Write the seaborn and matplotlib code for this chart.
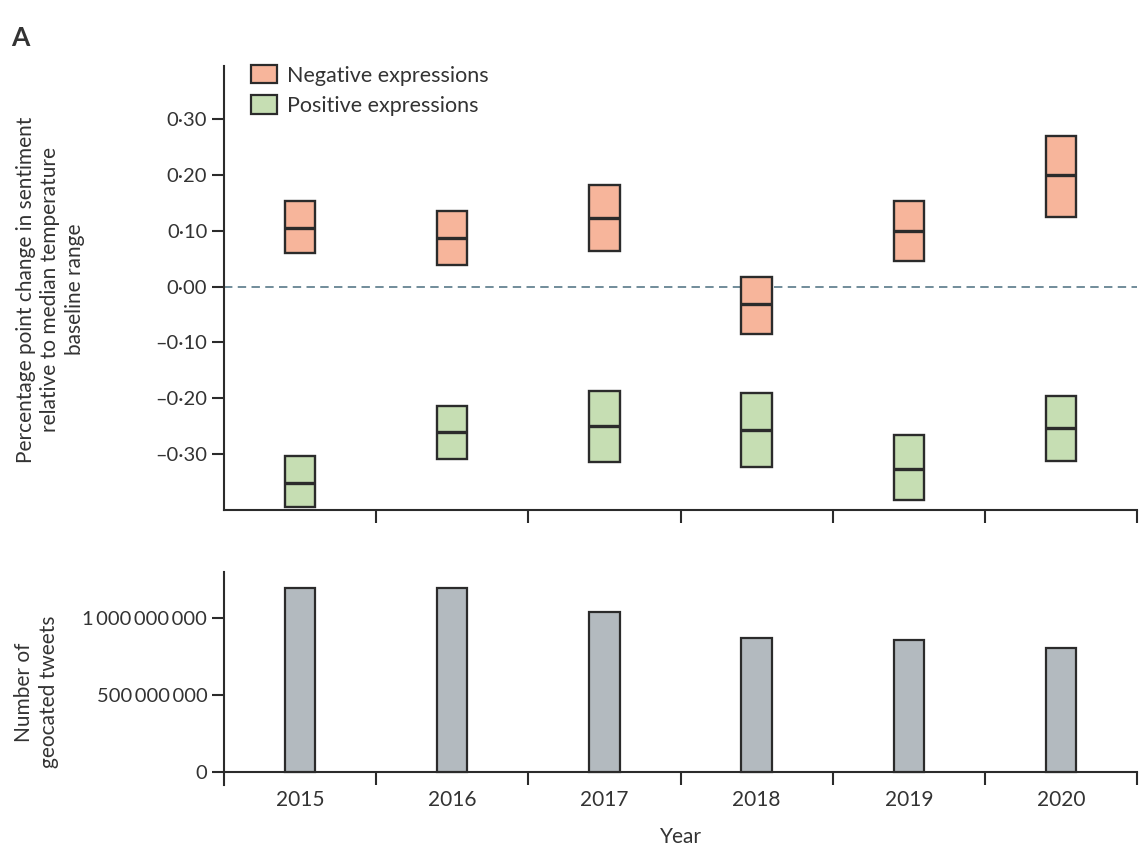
import numpy as np
import pandas as pd
import matplotlib
matplotlib.use("Agg")
import matplotlib.pyplot as plt
from matplotlib.patches import Patch
from matplotlib.ticker import FixedLocator, FuncFormatter
import seaborn as sns

# Yearly sentiment change: interval bounds and central estimate
years = ["2015", "2016", "2017", "2018", "2019", "2020"]
neg_low = [0.060, 0.038, 0.063, -0.084, 0.046, 0.124]
neg_mid = [0.105, 0.087, 0.122, -0.032, 0.099, 0.199]
neg_high = [0.153, 0.135, 0.182, 0.018, 0.154, 0.269]
pos_low = [-0.395, -0.309, -0.314, -0.323, -0.382, -0.313]
pos_mid = [-0.352, -0.261, -0.250, -0.257, -0.326, -0.253]
pos_high = [-0.303, -0.213, -0.187, -0.191, -0.266, -0.196]

# Geocated tweet volume per year
tweets = [1.196e9, 1.196e9, 1.04e9, 0.871e9, 0.858e9, 0.806e9]

sent_ticks = [0.30, 0.20, 0.10, 0.00, -0.10, -0.20, -0.30]
tweet_ticks = [0, 500_000_000, 1_000_000_000]

sns.set_theme(style="white")
plt.rcParams["font.family"] = ["Lato", "DejaVu Sans"]
plt.rcParams["text.color"] = "#333333"
plt.rcParams["axes.labelcolor"] = "#333333"
plt.rcParams["xtick.color"] = "#333333"
plt.rcParams["ytick.color"] = "#333333"

INK = "#2b2b2b"
NEG_FILL = "#f7b59b"
POS_FILL = "#c6deb3"
BAR_FILL = "#b3babf"
BOX_W = 0.2

fig = plt.figure(figsize=(11.47, 8.52), dpi=100)
ax1 = fig.add_axes([0.1953, 0.4014, 0.796, 0.5211])
ax2 = fig.add_axes([0.1953, 0.0787, 0.796, 0.2500])

df = pd.DataFrame({
    "year": years,
    "neg_low": neg_low, "neg_mid": neg_mid, "neg_high": neg_high,
    "pos_low": pos_low, "pos_mid": pos_mid, "pos_high": pos_high,
    "tweets": tweets,
})
xpos = np.arange(len(years))

# --- top panel: interval boxes with a central line ---
for key, fill in (("neg", NEG_FILL), ("pos", POS_FILL)):
    lo = df[f"{key}_low"].to_numpy()
    hi = df[f"{key}_high"].to_numpy()
    mid = df[f"{key}_mid"].to_numpy()
    ax1.bar(xpos, hi - lo, bottom=lo, width=BOX_W, color=fill,
            edgecolor=INK, linewidth=1.7, zorder=3)
    ax1.hlines(mid, xpos - BOX_W / 2, xpos + BOX_W / 2, color=INK,
               linewidth=2.4, zorder=4)

ax1.axhline(0, color="#4a6e7e", linewidth=1.1, linestyle=(0, (5.5, 3.5)),
            zorder=2)

ax1.set_xlim(-0.5, len(years) - 0.5)
ax1.set_ylim(-0.40, 0.395)
ax1.yaxis.set_major_locator(FixedLocator(sent_ticks))


def fmt_sent(v, _pos=None):
    s = f"{abs(v):.2f}".replace(".", "\u00b7")
    return ("\u2013" + s) if v < -1e-9 else s


ax1.yaxis.set_major_formatter(FuncFormatter(fmt_sent))
ax1.set_xticks(xpos)
ax1.set_xticklabels([])
ax1.set_xticks(np.arange(len(years)) + 0.5, minor=True)
ax1.tick_params(axis="x", which="major", length=0)
ax1.tick_params(axis="x", which="minor", length=9, width=1.5,
                direction="out", color=INK, bottom=True)
ax1.tick_params(axis="y", length=9, width=1.5, direction="out",
                color=INK, labelsize=14.5, pad=3, left=True)
for side in ("top", "right"):
    ax1.spines[side].set_visible(False)
for side in ("left", "bottom"):
    ax1.spines[side].set_color(INK)
    ax1.spines[side].set_linewidth(1.5)

handles = [Patch(facecolor=NEG_FILL, edgecolor=INK, linewidth=1.6,
                 label="Negative expressions"),
           Patch(facecolor=POS_FILL, edgecolor=INK, linewidth=1.6,
                 label="Positive expressions")]
ax1.legend(handles=handles, loc="upper left", bbox_to_anchor=(0.02, 1.022),
           frameon=False, fontsize=15.5, handlelength=1.2, handleheight=0.95,
           handletextpad=0.5, labelspacing=0.45, borderaxespad=0)

fig.text(0.044, 0.660,
         "Percentage point change in sentiment\n"
         "relative to median temperature\nbaseline range",
         rotation=90, ha="center", va="center", fontsize=15,
         linespacing=1.3, multialignment="center")

# --- bottom panel: tweet counts ---
sns.barplot(data=df, x="year", y="tweets", color=BAR_FILL, saturation=1,
            width=BOX_W, edgecolor=INK, linewidth=1.6, ax=ax2, zorder=3)
ax2.set_xlim(-0.5, len(years) - 0.5)
ax2.set_ylim(-0.085e9, 1.3e9)
ax2.spines["bottom"].set_position(("data", 0))
ax2.yaxis.set_major_locator(FixedLocator(tweet_ticks))
ax2.yaxis.set_major_formatter(
    FuncFormatter(lambda v, p: f"{int(round(v)):,}".replace(",", "\u2009")))
ax2.set_xticks(xpos)
ax2.set_xticklabels(years)
ax2.set_xticks(np.arange(len(years)) + 0.5, minor=True)
ax2.tick_params(axis="x", which="major", length=0, labelsize=15, pad=13)
ax2.tick_params(axis="x", which="minor", length=9, width=1.5,
                direction="out", color=INK, bottom=True)
ax2.tick_params(axis="y", length=9, width=1.5, direction="out",
                color=INK, labelsize=14.5, pad=3, left=True)
for side in ("top", "right"):
    ax2.spines[side].set_visible(False)
for side in ("left", "bottom"):
    ax2.spines[side].set_color(INK)
    ax2.spines[side].set_linewidth(1.5)
ax2.set_ylabel("")
ax2.set_xlabel("Year", fontsize=15, labelpad=12)

fig.text(0.032, 0.188, "Number of\ngeocated tweets", rotation=90,
         ha="center", va="center", fontsize=15, linespacing=1.3,
         multialignment="center")

fig.text(0.010, 0.955, "A", fontsize=19, fontweight="bold", ha="left",
         va="center")

fig.savefig("out.png", dpi=100)
